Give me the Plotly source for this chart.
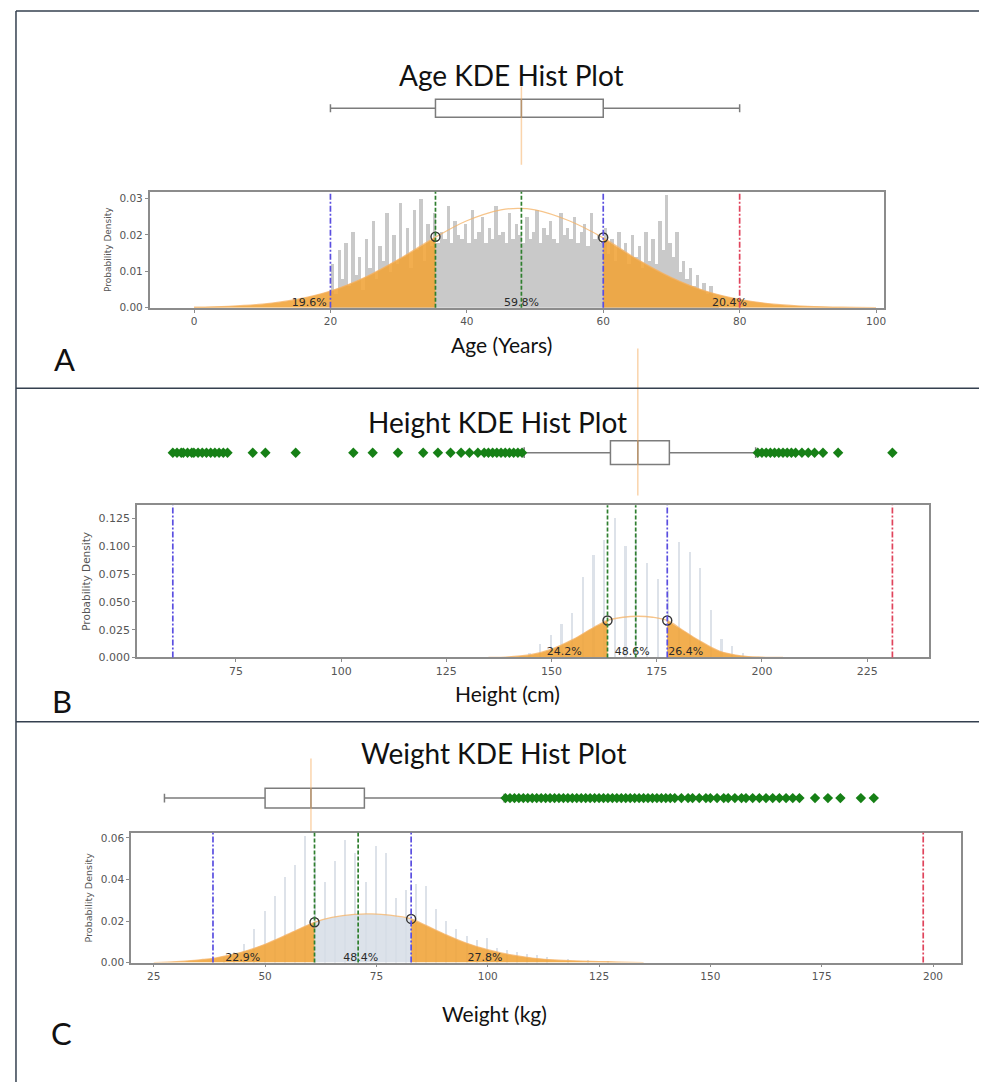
import plotly.graph_objects as go

W, H = 987, 1082

# ================= DATA =================
# ---- Panel A : Age ----
age_bin_start = 20.0
age_bin_width = 0.5
age_hist = [0.012, 0.004, 0.016, 0.008, 0.018, 0.006, 0.021, 0.009, 0.014, 0.005,
            0.019, 0.011, 0.024, 0.008, 0.017, 0.013, 0.026, 0.010, 0.020, 0.012,
            0.029, 0.014, 0.022, 0.011, 0.027, 0.016, 0.030, 0.013, 0.023, 0.017,
            0.026, 0.018, 0.021, 0.019, 0.028, 0.018, 0.024, 0.020, 0.019, 0.023,
            0.018, 0.027, 0.019, 0.021, 0.025, 0.018, 0.022, 0.019, 0.028, 0.020,
            0.021, 0.018, 0.026, 0.019, 0.023, 0.020, 0.018, 0.025, 0.019, 0.021,
            0.027, 0.018, 0.022, 0.020, 0.024, 0.019, 0.018, 0.026, 0.020, 0.022,
            0.019, 0.025, 0.018, 0.021, 0.023, 0.017, 0.026, 0.019, 0.020, 0.018,
            0.022, 0.015, 0.019, 0.013, 0.021, 0.016, 0.018, 0.012, 0.020, 0.014,
            0.017, 0.011, 0.021, 0.013, 0.019, 0.012, 0.024, 0.016, 0.031, 0.018,
            0.014, 0.021, 0.010, 0.013, 0.008, 0.011, 0.006, 0.009, 0.005, 0.007,
            0.004, 0.006, 0.003, 0.002]
age_kde_x = [0, 5, 10, 15, 20, 25, 30, 35.4, 40, 45, 47.5, 50, 55, 60, 65, 70, 75, 80, 85, 90, 95, 100]
age_kde_y = [0.00014, 0.0004, 0.001, 0.0023, 0.0046, 0.0083, 0.0133, 0.0194, 0.0239, 0.0269, 0.0273,
             0.0269, 0.0239, 0.0192, 0.0133, 0.0083, 0.0046, 0.0023, 0.001, 0.0004, 0.00014, 0.00004]
age_box = [20, 35.4, 48, 60, 80]          # low whisker, Q1, median, Q3, high whisker
age_outliers = []
age_blue = [20, 60]
age_green = [35.4, 48]
age_red = [80]
age_cuts = [35.4, 60]
age_marks_y = [0.0195, 0.0193]
age_pct = ["19.6%", "59.8%", "20.4%"]
age_pct_x = [16.9, 48, 78.5]
age_xticks = [0, 20, 40, 60, 80, 100]
age_yticks = [0, 0.01, 0.02, 0.03]

# ---- Panel B : Height ----
height_bar_x = [144.8, 147.3, 149.9, 152.4, 154.9, 157.5, 160.0, 162.6, 165.1, 167.6, 170.2,
                172.7, 175.3, 177.8, 180.3, 182.9, 185.4, 188.0, 190.5, 193.0, 195.6]
height_bar_y = [0.004, 0.012, 0.020, 0.030, 0.040, 0.072, 0.092, 0.105, 0.125, 0.100, 0.112,
                0.085, 0.070, 0.060, 0.104, 0.095, 0.080, 0.042, 0.016, 0.010, 0.004]
height_kde_x = [135, 140, 145, 150, 155, 160, 163.3, 167, 170.5, 174, 177.5, 181, 185, 190, 195, 200, 205]
height_kde_y = [0.0, 0.0006, 0.0025, 0.0075, 0.0160, 0.0270, 0.0333, 0.0362, 0.0371, 0.0362,
                0.0333, 0.0250, 0.0155, 0.0055, 0.0015, 0.0003, 0.0]
height_box = [143.5, 164.0, 170.5, 178.0, 198.5]
height_outliers = [60, 61, 62, 62.5, 63.5, 64.5, 65, 66, 67, 68, 69, 70, 71, 72, 73,
                   79, 82, 89.2, 102.9, 107.5, 113.5,
                   119.5, 123, 126, 128.5, 130.5, 132.5, 134, 135, 136, 137, 138, 139, 140, 141, 142, 143,
                   199, 200, 201, 202, 203, 204, 205, 206, 207, 208, 209.5, 211, 212.5, 214.5, 218.1, 231]
height_blue = [60, 177.5]
height_green = [163.3, 170.0]
height_red = [231]
height_cuts = [163.3, 177.5]
height_marks_y = [0.0333, 0.0333]
height_pct = ["24.2%", "48.6%", "26.4%"]
height_pct_x = [153, 169.2, 181.9]
height_xticks = [75, 100, 125, 150, 175, 200, 225]
height_yticks = [0, 0.025, 0.05, 0.075, 0.1, 0.125]

# ---- Panel C : Weight ----
weight_bar_x = [40.82, 43.09, 45.36, 47.63, 49.90, 52.16, 54.43, 56.70, 58.97, 61.23, 63.50, 65.77,
                68.04, 70.31, 72.57, 74.84, 77.11, 79.38, 81.65, 83.91, 86.18, 88.45, 90.72, 92.99,
                95.25, 97.52, 99.79, 102.06, 104.33, 106.6, 108.86, 111.13, 113.4, 117.93, 122.47, 127.01]
weight_bar_y = [0.003, 0.005, 0.009, 0.016, 0.025, 0.032, 0.041, 0.047, 0.061, 0.052, 0.039, 0.049,
                0.059, 0.053, 0.039, 0.056, 0.053, 0.031, 0.035, 0.038, 0.037, 0.026, 0.020, 0.016,
                0.013, 0.011, 0.012, 0.007, 0.006, 0.005, 0.004, 0.0035, 0.003, 0.002, 0.0015, 0.001]
weight_kde_x = [25, 28, 32, 36, 38.3, 42, 46, 50, 54, 58, 61.1, 65, 70, 74, 78, 82.8, 86, 90, 95,
                100, 105, 110, 115, 120, 125, 130, 135]
weight_kde_y = [0.0, 0.0002, 0.0007, 0.0015, 0.0020, 0.0036, 0.0058, 0.0088, 0.0125, 0.0165, 0.0194,
                0.0217, 0.0232, 0.0234, 0.0228, 0.0210, 0.0180, 0.0140, 0.0095, 0.0062, 0.0038,
                0.0022, 0.0013, 0.0008, 0.0005, 0.0002, 0.0]
weight_box = [27.4, 50.0, 60.3, 72.3, 103.7]
weight_outliers = [104, 105, 106, 107, 108, 109, 110, 111, 112, 113, 114, 115, 116, 117, 118, 119, 120,
                   121, 122, 123, 124, 125, 126, 127, 128, 129, 130, 131, 132, 133, 134, 135, 136, 137,
                   138, 139, 140, 141, 142, 143.5, 145, 146, 147.5, 149, 150, 151.5, 153, 154, 155.5,
                   157, 158, 159.5, 161, 162.5, 164, 165.5, 167, 168.5, 170, 173.5, 176.4, 179.2,
                   183.8, 186.7]
weight_blue = [38.3, 82.8]
weight_green = [61.1, 70.9]
weight_red = [197.8]
weight_cuts = [61.1, 82.8]
weight_marks_y = [0.0194, 0.0210]
weight_pct = ["22.9%", "48.4%", "27.8%"]
weight_pct_x = [45.0, 71.5, 99.4]
weight_xticks = [25, 50, 75, 100, 125, 150, 175, 200]
weight_yticks = [0, 0.02, 0.04, 0.06]

# ================= STYLE / LAYOUT =================
ORANGE_FILL = "rgba(240,163,55,0.88)"
KDE_LINE = "rgba(244,178,100,0.75)"
BLUE = "#5b4fe0"
GREEN = "#2f7f2f"
RED = "#e0445c"
FRAME = "#8c8c8c"
TITLEFONT = dict(family="Lato", size=28, color="#111111")
XTITLEFONT = dict(family="Lato", size=21, color="#111111")
LETTERFONT = dict(family="Lato", size=31, color="#111111")


def py(p):
    return 1 - p / H


def pxx(p):
    return p / W


panels = [
    dict(name="age", hist_kind="dense", bin_start=age_bin_start, bin_width=age_bin_width, hist=age_hist,
         kde_x=age_kde_x, kde_y=age_kde_y, box=age_box, outliers=age_outliers, blue=age_blue,
         green=age_green, red=age_red, cuts=age_cuts, marks_y=age_marks_y, pct=age_pct, pct_x=age_pct_x,
         pct_y=0.0013, xticks=age_xticks, yticks=age_yticks, yfmt=".2f", tick_size=10.5, ytitle_size=9,
         xdom=(142, 878), ydom=(184, 301), xrange=(-6.5, 101.2), yrange=(0, 0.0319),
         bdom=(60, 160), brange=(-1.2, 0.8), bwidth=0.36, med_span=(0.44, -1.14),
         bar_color="#c9c9c9", mid_fill=None),
    dict(name="height", hist_kind="sparse", bar_x=height_bar_x, bar_y=height_bar_y,
         kde_x=height_kde_x, kde_y=height_kde_y, box=height_box, outliers=height_outliers,
         blue=height_blue, green=height_green, red=height_red, cuts=height_cuts, marks_y=height_marks_y,
         pct=height_pct, pct_x=height_pct_x, pct_y=0.0045, xticks=height_xticks, yticks=height_yticks,
         yfmt=".3f", tick_size=11, ytitle_size=10.5,
         xdom=(129.3, 923.3), ydom=(500, 653.3), xrange=(51.5, 239.8), yrange=(0, 0.1369),
         bdom=(338, 498), brange=(-1.02, 2.18), bwidth=0.48, med_span=(2.1, -0.86),
         bar_color="#dde2e9", mid_fill=None),
    dict(name="weight", hist_kind="sparse", bar_x=weight_bar_x, bar_y=weight_bar_y,
         kde_x=weight_kde_x, kde_y=weight_kde_y, box=weight_box, outliers=weight_outliers,
         blue=weight_blue, green=weight_green, red=weight_red, cuts=weight_cuts, marks_y=weight_marks_y,
         pct=weight_pct, pct_x=weight_pct_x, pct_y=0.002, xticks=weight_xticks, yticks=weight_yticks,
         yfmt=".2f", tick_size=10.5, ytitle_size=9.5,
         xdom=(123.3, 955), ydom=(830, 960.7), xrange=(19.9, 206.3), yrange=(0, 0.0624),
         bdom=(740, 830), brange=(-0.7, 1.1), bwidth=0.4, med_span=(0.8, -0.66),
         bar_color="#dde2e9", mid_fill="rgba(214,221,230,0.85)"),
]

fig = go.Figure()
layout_axes = {}
shapes = []
annotations = []

for i, p in enumerate(panels):
    hx = 2 * i + 1
    bx = 2 * i + 2
    xa_h = "x" if hx == 1 else f"x{hx}"
    ya_h = "y" if hx == 1 else f"y{hx}"
    xa_b = f"x{bx}"
    ya_b = f"y{bx}"
    tickfont = dict(family="DejaVu Sans", size=p["tick_size"], color="#555555")

    # histogram bars
    if p["hist_kind"] == "dense":
        bx_pos = [p["bin_start"] + p["bin_width"] * (k + 0.5) for k in range(len(p["hist"]))]
        fig.add_trace(go.Bar(x=bx_pos, y=p["hist"], width=p["bin_width"], marker=dict(color=p["bar_color"], line=dict(width=0)),
                             xaxis=xa_h, yaxis=ya_h, showlegend=False, hoverinfo="skip"))
    else:
        fig.add_trace(go.Bar(x=p["bar_x"], y=p["bar_y"], width=0.45, marker=dict(color=p["bar_color"], line=dict(width=0)),
                             xaxis=xa_h, yaxis=ya_h, showlegend=False, hoverinfo="skip"))

    kx, ky = p["kde_x"], p["kde_y"]
    c1, c2 = p["cuts"]
    if p["mid_fill"]:
        mx = [x for x in kx if c1 <= x <= c2]
        my = [y for x, y in zip(kx, ky) if c1 <= x <= c2]
        fig.add_trace(go.Scatter(x=mx, y=my, mode="lines", line=dict(width=0), fill="tozeroy",
                                 fillcolor=p["mid_fill"], xaxis=xa_h, yaxis=ya_h, showlegend=False, hoverinfo="skip"))
    lx = [x for x in kx if x <= c1]
    ly = [y for x, y in zip(kx, ky) if x <= c1]
    rx = [x for x in kx if x >= c2]
    ry = [y for x, y in zip(kx, ky) if x >= c2]
    for tx, ty in ((lx, ly), (rx, ry)):
        fig.add_trace(go.Scatter(x=tx, y=ty, mode="lines", line=dict(width=0, shape="spline"), fill="tozeroy",
                                 fillcolor=ORANGE_FILL, xaxis=xa_h, yaxis=ya_h, showlegend=False, hoverinfo="skip"))
    fig.add_trace(go.Scatter(x=kx, y=ky, mode="lines", line=dict(color=KDE_LINE, width=1.3, shape="spline"),
                             xaxis=xa_h, yaxis=ya_h, showlegend=False, hoverinfo="skip"))

    for vals, col, dash in ((p["blue"], BLUE, "6px,2px,2px,2px"), (p["green"], GREEN, "4px,2px"),
                            (p["red"], RED, "6px,2px,2px,2px")):
        for v in vals:
            shapes.append(dict(type="line", xref=xa_h, yref=f"{ya_h} domain", x0=v, x1=v, y0=0, y1=1,
                               line=dict(color=col, width=1.7, dash=dash), layer="above"))

    fig.add_trace(go.Scatter(x=[p["green"][0], p["blue"][1]], y=p["marks_y"], mode="markers",
                             marker=dict(symbol="circle-open", size=9, color="#333333", line=dict(width=1.4)),
                             xaxis=xa_h, yaxis=ya_h, showlegend=False, hoverinfo="skip"))
    fig.add_trace(go.Scatter(x=p["pct_x"], y=[p["pct_y"]] * 3, mode="text", text=p["pct"],
                             textfont=dict(family="DejaVu Sans", size=11, color="#2a2a2a"),
                             xaxis=xa_h, yaxis=ya_h, showlegend=False, hoverinfo="skip"))

    lo, q1, med, q3, hi = p["box"]
    fig.add_trace(go.Box(y=[0], q1=[q1], median=[med], q3=[q3], lowerfence=[lo], upperfence=[hi],
                         orientation="h", fillcolor="white", line=dict(color="#7c7c7c", width=1.5),
                         width=p["bwidth"], whiskerwidth=0.45, boxpoints=False,
                         xaxis=xa_b, yaxis=ya_b, showlegend=False, hoverinfo="skip"))
    fig.add_trace(go.Scatter(x=[med, med], y=list(p["med_span"]), mode="lines",
                             line=dict(color="rgba(245,170,90,0.5)", width=1.5),
                             xaxis=xa_b, yaxis=ya_b, showlegend=False, hoverinfo="skip"))
    if p["outliers"]:
        fig.add_trace(go.Scatter(x=p["outliers"], y=[0] * len(p["outliers"]), mode="markers",
                                 marker=dict(symbol="diamond", size=8, color="#168016"),
                                 xaxis=xa_b, yaxis=ya_b, showlegend=False, hoverinfo="skip"))

    xd = [pxx(p["xdom"][0]), pxx(p["xdom"][1])]
    key_xh = "xaxis" if hx == 1 else f"xaxis{hx}"
    key_yh = "yaxis" if hx == 1 else f"yaxis{hx}"
    layout_axes[key_xh] = dict(domain=xd, range=list(p["xrange"]), anchor=ya_h, showline=True, mirror=True,
                               linecolor=FRAME, linewidth=1.6, ticks="outside", ticklen=3, tickcolor=FRAME,
                               tickvals=p["xticks"], tickfont=tickfont, showgrid=False, zeroline=False)
    layout_axes[key_yh] = dict(domain=[py(p["ydom"][1]), py(p["ydom"][0])], range=list(p["yrange"]), anchor=xa_h,
                               showline=True, mirror=True, linecolor=FRAME, linewidth=1.6, ticks="outside",
                               ticklen=3, tickcolor=FRAME, tickvals=p["yticks"], tickformat=p["yfmt"],
                               tickfont=tickfont, showgrid=False, zeroline=False,
                               title=dict(text="Probability Density",
                                          font=dict(family="DejaVu Sans", size=p["ytitle_size"], color="#555555"),
                                          standoff=6))
    layout_axes[f"xaxis{bx}"] = dict(domain=xd, range=list(p["xrange"]), anchor=ya_b, visible=False,
                                     matches=xa_h)
    layout_axes[f"yaxis{bx}"] = dict(domain=[py(p["bdom"][1]), py(p["bdom"][0])], range=list(p["brange"]),
                                     anchor=xa_b, visible=False)

texts = [
    ("Age KDE Hist Plot", 505, 66, TITLEFONT),
    ("Height KDE Hist Plot", 490, 416, TITLEFONT),
    ("Weight KDE Hist Plot", 487, 750, TITLEFONT),
    ("Age (Years)", 495, 338, XTITLEFONT),
    ("Height (cm)", 501, 690, XTITLEFONT),
    ("Weight (kg)", 487, 1012, XTITLEFONT),
    ("A", 57, 353, LETTERFONT),
    ("B", 54, 697, LETTERFONT),
    ("C", 54, 1032, LETTERFONT),
]
for t, x, y, f in texts:
    annotations.append(dict(text=t, x=pxx(x), y=py(y), xref="paper", yref="paper", showarrow=False,
                            xanchor="center", yanchor="middle", font=f))

BORDER = "#34404f"
for (x0, y0, x1, y1) in [(8, 2, 987, 2), (8, 2, 8, 1082), (8, 382, 987, 382), (8, 718, 987, 718)]:
    shapes.append(dict(type="line", xref="paper", yref="paper", x0=pxx(x0), y0=py(y0), x1=pxx(x1), y1=py(y1),
                       line=dict(color=BORDER, width=1.5)))

fig.update_layout(width=W, height=H, margin=dict(l=0, r=0, t=0, b=0), paper_bgcolor="white",
                  plot_bgcolor="white", showlegend=False, bargap=0, shapes=shapes, annotations=annotations,
                  **layout_axes)

fig.write_html("out.html")
